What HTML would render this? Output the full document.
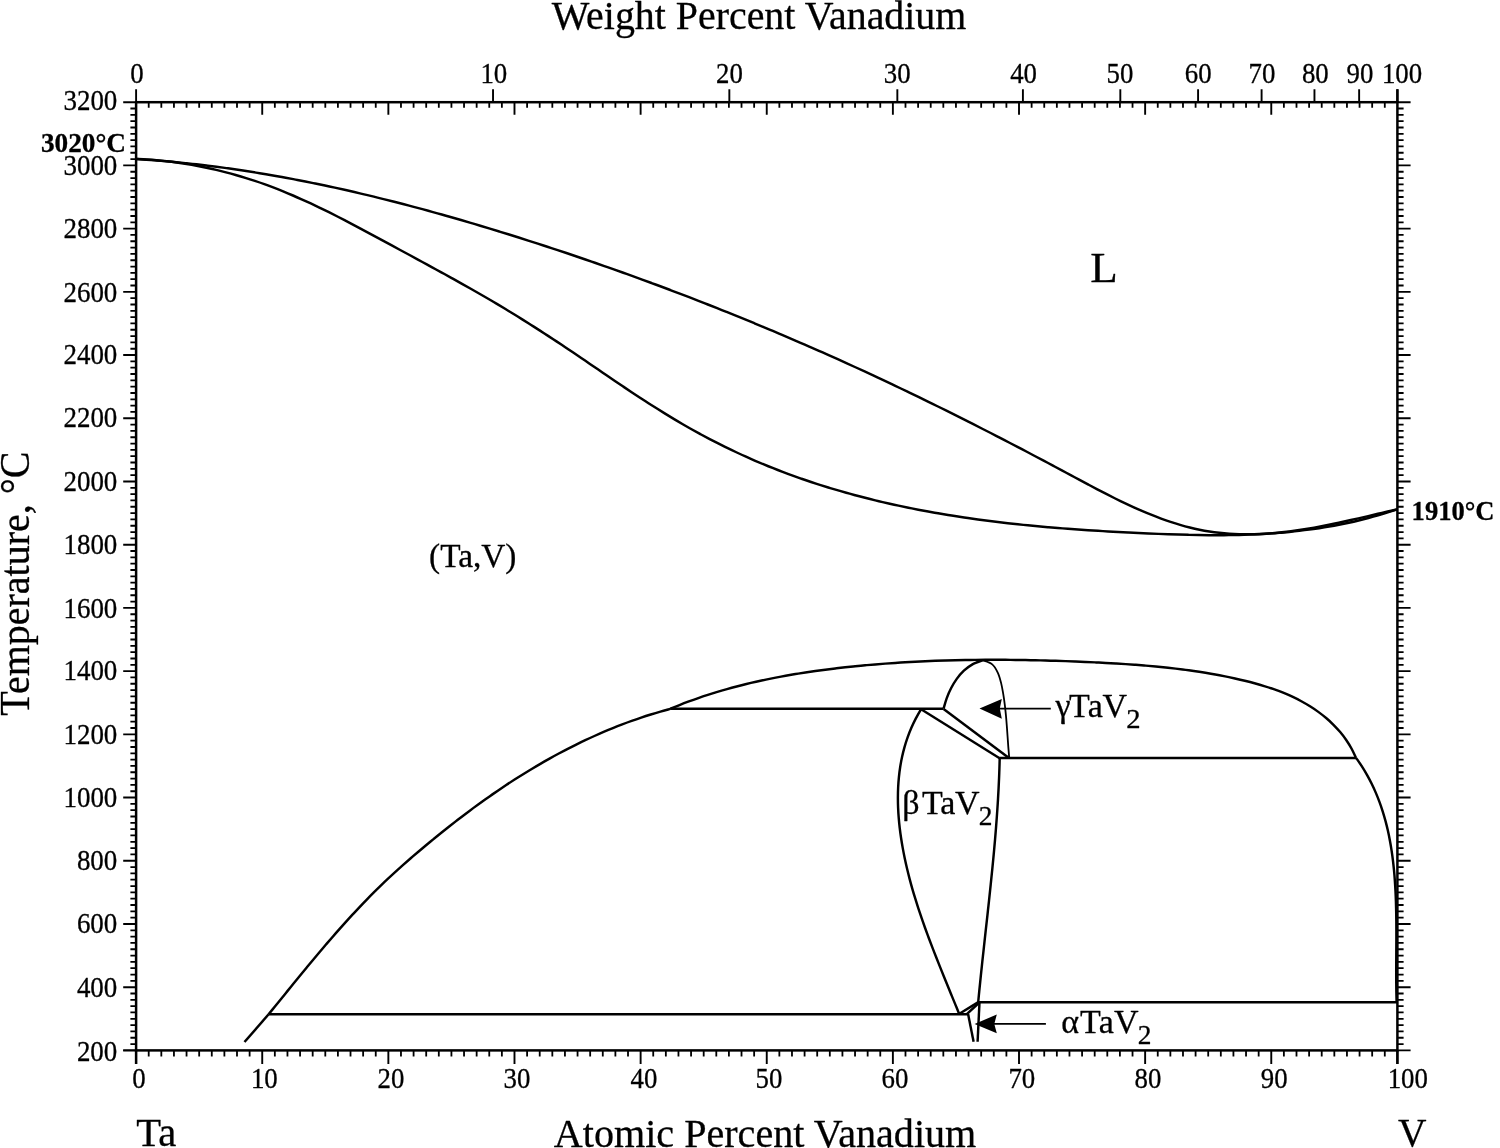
<!DOCTYPE html>
<html lang="en"><head><meta charset="utf-8"><title>Ta-V Phase Diagram</title>
<style>
html,body{margin:0;padding:0;background:#fff;}
body{width:1500px;height:1148px;overflow:hidden;}
svg{display:block;}
</style></head><body>
<svg width="1500" height="1148" viewBox="0 0 1500 1148">
<rect width="1500" height="1148" fill="#fff"/>
<g stroke="#000" fill="none" stroke-linecap="butt">
<rect x="136.1" y="102.2" width="1261.3" height="948.2" stroke-width="2.5"/>
<path d="M130.4,1044.08H136.1M1397.4,1044.08H1403.6M130.4,1037.76H136.1M1397.4,1037.76H1403.6M130.4,1031.44H136.1M1397.4,1031.44H1403.6M130.4,1025.11H136.1M1397.4,1025.11H1403.6M130.4,1018.79H136.1M1397.4,1018.79H1403.6M130.4,1012.47H136.1M1397.4,1012.47H1403.6M130.4,1006.15H136.1M1397.4,1006.15H1403.6M130.4,999.83H136.1M1397.4,999.83H1403.6M130.4,993.51H136.1M1397.4,993.51H1403.6M130.4,980.87H136.1M1397.4,980.87H1403.6M130.4,974.54H136.1M1397.4,974.54H1403.6M130.4,968.22H136.1M1397.4,968.22H1403.6M130.4,961.9H136.1M1397.4,961.9H1403.6M130.4,955.58H136.1M1397.4,955.58H1403.6M130.4,949.26H136.1M1397.4,949.26H1403.6M130.4,942.94H136.1M1397.4,942.94H1403.6M130.4,936.62H136.1M1397.4,936.62H1403.6M130.4,930.29H136.1M1397.4,930.29H1403.6M130.4,917.65H136.1M1397.4,917.65H1403.6M130.4,911.33H136.1M1397.4,911.33H1403.6M130.4,905.01H136.1M1397.4,905.01H1403.6M130.4,898.69H136.1M1397.4,898.69H1403.6M130.4,892.37H136.1M1397.4,892.37H1403.6M130.4,886.05H136.1M1397.4,886.05H1403.6M130.4,879.72H136.1M1397.4,879.72H1403.6M130.4,873.4H136.1M1397.4,873.4H1403.6M130.4,867.08H136.1M1397.4,867.08H1403.6M130.4,854.44H136.1M1397.4,854.44H1403.6M130.4,848.12H136.1M1397.4,848.12H1403.6M130.4,841.8H136.1M1397.4,841.8H1403.6M130.4,835.47H136.1M1397.4,835.47H1403.6M130.4,829.15H136.1M1397.4,829.15H1403.6M130.4,822.83H136.1M1397.4,822.83H1403.6M130.4,816.51H136.1M1397.4,816.51H1403.6M130.4,810.19H136.1M1397.4,810.19H1403.6M130.4,803.87H136.1M1397.4,803.87H1403.6M130.4,791.23H136.1M1397.4,791.23H1403.6M130.4,784.9H136.1M1397.4,784.9H1403.6M130.4,778.58H136.1M1397.4,778.58H1403.6M130.4,772.26H136.1M1397.4,772.26H1403.6M130.4,765.94H136.1M1397.4,765.94H1403.6M130.4,759.62H136.1M1397.4,759.62H1403.6M130.4,753.3H136.1M1397.4,753.3H1403.6M130.4,746.98H136.1M1397.4,746.98H1403.6M130.4,740.65H136.1M1397.4,740.65H1403.6M130.4,728.01H136.1M1397.4,728.01H1403.6M130.4,721.69H136.1M1397.4,721.69H1403.6M130.4,715.37H136.1M1397.4,715.37H1403.6M130.4,709.05H136.1M1397.4,709.05H1403.6M130.4,702.73H136.1M1397.4,702.73H1403.6M130.4,696.41H136.1M1397.4,696.41H1403.6M130.4,690.08H136.1M1397.4,690.08H1403.6M130.4,683.76H136.1M1397.4,683.76H1403.6M130.4,677.44H136.1M1397.4,677.44H1403.6M130.4,664.8H136.1M1397.4,664.8H1403.6M130.4,658.48H136.1M1397.4,658.48H1403.6M130.4,652.16H136.1M1397.4,652.16H1403.6M130.4,645.83H136.1M1397.4,645.83H1403.6M130.4,639.51H136.1M1397.4,639.51H1403.6M130.4,633.19H136.1M1397.4,633.19H1403.6M130.4,626.87H136.1M1397.4,626.87H1403.6M130.4,620.55H136.1M1397.4,620.55H1403.6M130.4,614.23H136.1M1397.4,614.23H1403.6M130.4,601.59H136.1M1397.4,601.59H1403.6M130.4,595.26H136.1M1397.4,595.26H1403.6M130.4,588.94H136.1M1397.4,588.94H1403.6M130.4,582.62H136.1M1397.4,582.62H1403.6M130.4,576.3H136.1M1397.4,576.3H1403.6M130.4,569.98H136.1M1397.4,569.98H1403.6M130.4,563.66H136.1M1397.4,563.66H1403.6M130.4,557.34H136.1M1397.4,557.34H1403.6M130.4,551.01H136.1M1397.4,551.01H1403.6M130.4,538.37H136.1M1397.4,538.37H1403.6M130.4,532.05H136.1M1397.4,532.05H1403.6M130.4,525.73H136.1M1397.4,525.73H1403.6M130.4,519.41H136.1M1397.4,519.41H1403.6M130.4,513.09H136.1M1397.4,513.09H1403.6M130.4,506.77H136.1M1397.4,506.77H1403.6M130.4,500.44H136.1M1397.4,500.44H1403.6M130.4,494.12H136.1M1397.4,494.12H1403.6M130.4,487.8H136.1M1397.4,487.8H1403.6M130.4,475.16H136.1M1397.4,475.16H1403.6M130.4,468.84H136.1M1397.4,468.84H1403.6M130.4,462.52H136.1M1397.4,462.52H1403.6M130.4,456.19H136.1M1397.4,456.19H1403.6M130.4,449.87H136.1M1397.4,449.87H1403.6M130.4,443.55H136.1M1397.4,443.55H1403.6M130.4,437.23H136.1M1397.4,437.23H1403.6M130.4,430.91H136.1M1397.4,430.91H1403.6M130.4,424.59H136.1M1397.4,424.59H1403.6M130.4,411.95H136.1M1397.4,411.95H1403.6M130.4,405.62H136.1M1397.4,405.62H1403.6M130.4,399.3H136.1M1397.4,399.3H1403.6M130.4,392.98H136.1M1397.4,392.98H1403.6M130.4,386.66H136.1M1397.4,386.66H1403.6M130.4,380.34H136.1M1397.4,380.34H1403.6M130.4,374.02H136.1M1397.4,374.02H1403.6M130.4,367.7H136.1M1397.4,367.7H1403.6M130.4,361.37H136.1M1397.4,361.37H1403.6M130.4,348.73H136.1M1397.4,348.73H1403.6M130.4,342.41H136.1M1397.4,342.41H1403.6M130.4,336.09H136.1M1397.4,336.09H1403.6M130.4,329.77H136.1M1397.4,329.77H1403.6M130.4,323.45H136.1M1397.4,323.45H1403.6M130.4,317.13H136.1M1397.4,317.13H1403.6M130.4,310.8H136.1M1397.4,310.8H1403.6M130.4,304.48H136.1M1397.4,304.48H1403.6M130.4,298.16H136.1M1397.4,298.16H1403.6M130.4,285.52H136.1M1397.4,285.52H1403.6M130.4,279.2H136.1M1397.4,279.2H1403.6M130.4,272.88H136.1M1397.4,272.88H1403.6M130.4,266.55H136.1M1397.4,266.55H1403.6M130.4,260.23H136.1M1397.4,260.23H1403.6M130.4,253.91H136.1M1397.4,253.91H1403.6M130.4,247.59H136.1M1397.4,247.59H1403.6M130.4,241.27H136.1M1397.4,241.27H1403.6M130.4,234.95H136.1M1397.4,234.95H1403.6M130.4,222.31H136.1M1397.4,222.31H1403.6M130.4,215.98H136.1M1397.4,215.98H1403.6M130.4,209.66H136.1M1397.4,209.66H1403.6M130.4,203.34H136.1M1397.4,203.34H1403.6M130.4,197.02H136.1M1397.4,197.02H1403.6M130.4,190.7H136.1M1397.4,190.7H1403.6M130.4,184.38H136.1M1397.4,184.38H1403.6M130.4,178.06H136.1M1397.4,178.06H1403.6M130.4,171.73H136.1M1397.4,171.73H1403.6M130.4,159.09H136.1M1397.4,159.09H1403.6M130.4,152.77H136.1M1397.4,152.77H1403.6M130.4,146.45H136.1M1397.4,146.45H1403.6M130.4,140.13H136.1M1397.4,140.13H1403.6M130.4,133.81H136.1M1397.4,133.81H1403.6M130.4,127.49H136.1M1397.4,127.49H1403.6M130.4,121.16H136.1M1397.4,121.16H1403.6M130.4,114.84H136.1M1397.4,114.84H1403.6M130.4,108.52H136.1M1397.4,108.52H1403.6M148.71,1050.4V1056.6M148.71,102.2V107.7M161.33,1050.4V1056.6M161.33,102.2V107.7M173.94,1050.4V1056.6M173.94,102.2V107.7M186.55,1050.4V1056.6M186.55,102.2V107.7M199.17,1050.4V1056.6M199.17,102.2V107.7M211.78,1050.4V1056.6M211.78,102.2V107.7M224.39,1050.4V1056.6M224.39,102.2V107.7M237,1050.4V1056.6M237,102.2V107.7M249.62,1050.4V1056.6M249.62,102.2V107.7M274.84,1050.4V1056.6M274.84,102.2V107.7M287.46,1050.4V1056.6M287.46,102.2V107.7M300.07,1050.4V1056.6M300.07,102.2V107.7M312.68,1050.4V1056.6M312.68,102.2V107.7M325.3,1050.4V1056.6M325.3,102.2V107.7M337.91,1050.4V1056.6M337.91,102.2V107.7M350.52,1050.4V1056.6M350.52,102.2V107.7M363.13,1050.4V1056.6M363.13,102.2V107.7M375.75,1050.4V1056.6M375.75,102.2V107.7M400.97,1050.4V1056.6M400.97,102.2V107.7M413.59,1050.4V1056.6M413.59,102.2V107.7M426.2,1050.4V1056.6M426.2,102.2V107.7M438.81,1050.4V1056.6M438.81,102.2V107.7M451.43,1050.4V1056.6M451.43,102.2V107.7M464.04,1050.4V1056.6M464.04,102.2V107.7M476.65,1050.4V1056.6M476.65,102.2V107.7M489.26,1050.4V1056.6M489.26,102.2V107.7M501.88,1050.4V1056.6M501.88,102.2V107.7M527.1,1050.4V1056.6M527.1,102.2V107.7M539.72,1050.4V1056.6M539.72,102.2V107.7M552.33,1050.4V1056.6M552.33,102.2V107.7M564.94,1050.4V1056.6M564.94,102.2V107.7M577.56,1050.4V1056.6M577.56,102.2V107.7M590.17,1050.4V1056.6M590.17,102.2V107.7M602.78,1050.4V1056.6M602.78,102.2V107.7M615.39,1050.4V1056.6M615.39,102.2V107.7M628.01,1050.4V1056.6M628.01,102.2V107.7M653.23,1050.4V1056.6M653.23,102.2V107.7M665.85,1050.4V1056.6M665.85,102.2V107.7M678.46,1050.4V1056.6M678.46,102.2V107.7M691.07,1050.4V1056.6M691.07,102.2V107.7M703.69,1050.4V1056.6M703.69,102.2V107.7M716.3,1050.4V1056.6M716.3,102.2V107.7M728.91,1050.4V1056.6M728.91,102.2V107.7M741.52,1050.4V1056.6M741.52,102.2V107.7M754.14,1050.4V1056.6M754.14,102.2V107.7M779.36,1050.4V1056.6M779.36,102.2V107.7M791.98,1050.4V1056.6M791.98,102.2V107.7M804.59,1050.4V1056.6M804.59,102.2V107.7M817.2,1050.4V1056.6M817.2,102.2V107.7M829.82,1050.4V1056.6M829.82,102.2V107.7M842.43,1050.4V1056.6M842.43,102.2V107.7M855.04,1050.4V1056.6M855.04,102.2V107.7M867.65,1050.4V1056.6M867.65,102.2V107.7M880.27,1050.4V1056.6M880.27,102.2V107.7M905.49,1050.4V1056.6M905.49,102.2V107.7M918.11,1050.4V1056.6M918.11,102.2V107.7M930.72,1050.4V1056.6M930.72,102.2V107.7M943.33,1050.4V1056.6M943.33,102.2V107.7M955.95,1050.4V1056.6M955.95,102.2V107.7M968.56,1050.4V1056.6M968.56,102.2V107.7M981.17,1050.4V1056.6M981.17,102.2V107.7M993.78,1050.4V1056.6M993.78,102.2V107.7M1006.4,1050.4V1056.6M1006.4,102.2V107.7M1031.62,1050.4V1056.6M1031.62,102.2V107.7M1044.24,1050.4V1056.6M1044.24,102.2V107.7M1056.85,1050.4V1056.6M1056.85,102.2V107.7M1069.46,1050.4V1056.6M1069.46,102.2V107.7M1082.08,1050.4V1056.6M1082.08,102.2V107.7M1094.69,1050.4V1056.6M1094.69,102.2V107.7M1107.3,1050.4V1056.6M1107.3,102.2V107.7M1119.91,1050.4V1056.6M1119.91,102.2V107.7M1132.53,1050.4V1056.6M1132.53,102.2V107.7M1157.75,1050.4V1056.6M1157.75,102.2V107.7M1170.37,1050.4V1056.6M1170.37,102.2V107.7M1182.98,1050.4V1056.6M1182.98,102.2V107.7M1195.59,1050.4V1056.6M1195.59,102.2V107.7M1208.21,1050.4V1056.6M1208.21,102.2V107.7M1220.82,1050.4V1056.6M1220.82,102.2V107.7M1233.43,1050.4V1056.6M1233.43,102.2V107.7M1246.04,1050.4V1056.6M1246.04,102.2V107.7M1258.66,1050.4V1056.6M1258.66,102.2V107.7M1283.88,1050.4V1056.6M1283.88,102.2V107.7M1296.5,1050.4V1056.6M1296.5,102.2V107.7M1309.11,1050.4V1056.6M1309.11,102.2V107.7M1321.72,1050.4V1056.6M1321.72,102.2V107.7M1334.34,1050.4V1056.6M1334.34,102.2V107.7M1346.95,1050.4V1056.6M1346.95,102.2V107.7M1359.56,1050.4V1056.6M1359.56,102.2V107.7M1372.17,1050.4V1056.6M1372.17,102.2V107.7M1384.79,1050.4V1056.6M1384.79,102.2V107.7" stroke-width="1.8"/>
<path d="M123.2,1050.4H136.1M1397.4,1050.4H1410.6M123.2,987.19H136.1M1397.4,987.19H1410.6M123.2,923.97H136.1M1397.4,923.97H1410.6M123.2,860.76H136.1M1397.4,860.76H1410.6M123.2,797.55H136.1M1397.4,797.55H1410.6M123.2,734.33H136.1M1397.4,734.33H1410.6M123.2,671.12H136.1M1397.4,671.12H1410.6M123.2,607.91H136.1M1397.4,607.91H1410.6M123.2,544.69H136.1M1397.4,544.69H1410.6M123.2,481.48H136.1M1397.4,481.48H1410.6M123.2,418.27H136.1M1397.4,418.27H1410.6M123.2,355.05H136.1M1397.4,355.05H1410.6M123.2,291.84H136.1M1397.4,291.84H1410.6M123.2,228.63H136.1M1397.4,228.63H1410.6M123.2,165.41H136.1M1397.4,165.41H1410.6M123.2,102.2H136.1M1397.4,102.2H1410.6M136.1,1050.4V1063.9M262.23,1050.4V1063.9M262.23,102.2V114.7M388.36,1050.4V1063.9M388.36,102.2V114.7M514.49,1050.4V1063.9M514.49,102.2V114.7M640.62,1050.4V1063.9M640.62,102.2V114.7M766.75,1050.4V1063.9M766.75,102.2V114.7M892.88,1050.4V1063.9M892.88,102.2V114.7M1019.01,1050.4V1063.9M1019.01,102.2V114.7M1145.14,1050.4V1063.9M1145.14,102.2V114.7M1271.27,1050.4V1063.9M1271.27,102.2V114.7M1397.4,1050.4V1063.9M136.1,89.2V102.2M493.03,89.2V102.2M729.34,89.2V102.2M897.34,89.2V102.2M1022.91,89.2V102.2M1120.32,89.2V102.2M1198.08,89.2V102.2M1261.6,89.2V102.2M1314.46,89.2V102.2M1359.14,89.2V102.2M1397.4,89.2V102.2" stroke-width="1.9000000000000001"/>
<path d="M136.1,1050.4V1063.9M1397.4,1050.4V1063.9M1397.4,89.2V102.2" stroke-width="2.5"/>
<path d="M123.2,1050.4H136.1" stroke-width="1.9"/>
<path d="M136.4,159C138.07,159.11 143.1,159.43 146.45,159.67C149.8,159.91 153.14,160.16 156.48,160.43C159.83,160.69 163.17,160.97 166.51,161.27C169.84,161.57 173.18,161.88 176.51,162.2C179.85,162.53 183.18,162.87 186.51,163.22C189.83,163.57 193.16,163.94 196.48,164.32C199.81,164.7 203.13,165.1 206.45,165.5C209.77,165.91 213.09,166.33 216.4,166.77C219.72,167.2 223.03,167.65 226.34,168.11C229.65,168.57 232.96,169.04 236.26,169.53C239.57,170.02 242.87,170.52 246.17,171.03C249.47,171.54 252.77,172.06 256.07,172.6C259.37,173.13 262.66,173.68 265.96,174.24C269.25,174.8 272.54,175.37 275.83,175.95C279.11,176.54 282.4,177.13 285.68,177.74C288.97,178.34 292.25,178.96 295.53,179.59C298.81,180.22 302.09,180.86 305.36,181.51C308.64,182.16 311.91,182.82 315.18,183.49C318.45,184.17 321.72,184.85 324.99,185.54C328.26,186.24 331.52,186.94 334.79,187.65C338.05,188.37 341.31,189.09 344.57,189.82C347.83,190.56 351.08,191.3 354.34,192.05C357.59,192.81 360.85,193.57 364.1,194.34C367.35,195.11 370.6,195.89 373.84,196.68C377.09,197.47 380.33,198.27 383.58,199.08C386.82,199.89 390.06,200.71 393.3,201.53C396.54,202.36 399.77,203.19 403.01,204.04C406.24,204.88 409.48,205.73 412.71,206.59C415.94,207.45 419.17,208.31 422.4,209.19C425.62,210.06 428.85,210.95 432.07,211.84C435.29,212.73 438.52,213.63 441.74,214.53C444.96,215.44 448.17,216.35 451.39,217.27C454.61,218.19 457.82,219.11 461.03,220.05C464.24,220.98 467.45,221.92 470.66,222.87C473.87,223.81 477.08,224.77 480.28,225.73C483.49,226.68 486.69,227.65 489.89,228.62C493.09,229.59 496.29,230.57 499.49,231.55C502.69,232.54 505.89,233.53 509.08,234.52C512.27,235.52 515.47,236.52 518.66,237.52C521.85,238.53 525.04,239.54 528.22,240.56C531.41,241.58 534.6,242.6 537.78,243.63C540.96,244.66 544.15,245.69 547.33,246.73C550.51,247.77 553.68,248.81 556.86,249.86C560.04,250.91 563.21,251.97 566.38,253.03C569.56,254.09 572.73,255.16 575.89,256.23C579.06,257.31 582.23,258.38 585.39,259.47C588.56,260.55 591.72,261.64 594.88,262.74C598.04,263.83 601.2,264.93 604.36,266.04C607.52,267.14 610.67,268.25 613.83,269.37C616.98,270.49 620.13,271.61 623.28,272.74C626.43,273.86 629.58,275 632.72,276.13C635.87,277.27 639.01,278.42 642.15,279.56C645.29,280.71 648.43,281.87 651.57,283.03C654.71,284.19 657.84,285.35 660.98,286.52C664.11,287.69 667.24,288.87 670.37,290.05C673.5,291.23 676.63,292.42 679.75,293.61C682.88,294.8 686,296 689.12,297.2C692.24,298.41 695.36,299.62 698.48,300.83C701.59,302.04 704.71,303.26 707.82,304.49C710.93,305.71 714.04,306.94 717.15,308.17C720.26,309.41 723.36,310.65 726.47,311.89C729.57,313.14 732.67,314.39 735.77,315.65C738.87,316.9 741.97,318.16 745.06,319.43C748.16,320.69 751.25,321.97 754.34,323.24C757.43,324.52 760.52,325.8 763.6,327.09C766.69,328.38 769.77,329.67 772.85,330.97C775.93,332.26 779.01,333.57 782.09,334.87C785.17,336.18 788.24,337.5 791.31,338.81C794.39,340.13 797.46,341.46 800.52,342.79C803.59,344.11 806.66,345.45 809.72,346.79C812.78,348.13 815.84,349.47 818.9,350.82C821.96,352.17 825.01,353.52 828.07,354.88C831.12,356.24 834.17,357.61 837.22,358.98C840.27,360.35 843.31,361.72 846.36,363.1C849.4,364.48 852.44,365.87 855.48,367.26C858.52,368.65 861.56,370.04 864.59,371.44C867.63,372.84 870.66,374.25 873.69,375.66C876.72,377.07 879.74,378.48 882.77,379.9C885.79,381.32 888.81,382.75 891.83,384.18C894.85,385.61 897.87,387.05 900.88,388.49C903.9,389.93 906.91,391.37 909.92,392.82C912.93,394.27 915.94,395.72 918.94,397.18C921.95,398.64 924.95,400.11 927.95,401.57C930.96,403.04 933.95,404.51 936.95,405.99C939.95,407.47 942.94,408.95 945.94,410.44C948.93,411.92 951.92,413.41 954.91,414.91C957.9,416.4 960.89,417.9 963.87,419.4C966.86,420.9 969.84,422.41 972.83,423.92C975.81,425.43 978.79,426.95 981.77,428.47C984.75,429.99 987.72,431.51 990.7,433.03C993.68,434.56 996.65,436.09 999.62,437.63C1002.59,439.16 1005.57,440.7 1008.54,442.24C1011.51,443.78 1014.47,445.33 1017.44,446.88C1020.41,448.43 1023.37,449.98 1026.34,451.53C1029.3,453.09 1032.26,454.65 1035.22,456.21C1038.19,457.77 1041.15,459.34 1044.11,460.91C1047.07,462.48 1050.02,464.05 1052.98,465.63C1055.94,467.2 1058.89,468.78 1061.85,470.37C1064.8,471.95 1067.76,473.54 1070.71,475.12C1073.66,476.71 1076.62,478.3 1079.57,479.88C1082.53,481.47 1085.48,483.06 1088.44,484.63C1091.4,486.2 1094.36,487.77 1097.33,489.33C1100.3,490.88 1103.27,492.43 1106.25,493.95C1109.23,495.47 1112.22,496.98 1115.22,498.47C1118.22,499.96 1121.22,501.42 1124.24,502.86C1127.26,504.3 1130.28,505.71 1133.32,507.09C1136.37,508.47 1139.42,509.83 1142.49,511.14C1145.56,512.45 1148.64,513.74 1151.74,514.98C1154.84,516.21 1157.95,517.42 1161.09,518.57C1164.22,519.72 1167.38,520.84 1170.55,521.89C1173.72,522.95 1176.91,523.96 1180.12,524.9C1183.33,525.85 1186.55,526.74 1189.79,527.55C1193.02,528.36 1196.28,529.11 1199.54,529.77C1202.8,530.43 1206.08,531.01 1209.37,531.52C1212.66,532.03 1215.96,532.46 1219.26,532.82C1222.57,533.18 1225.88,533.47 1229.21,533.69C1232.53,533.91 1235.86,534.06 1239.19,534.16C1242.52,534.25 1245.86,534.28 1249.2,534.25C1252.54,534.22 1255.89,534.14 1259.23,534C1262.58,533.86 1265.93,533.66 1269.27,533.42C1272.61,533.18 1275.96,532.89 1279.3,532.55C1282.64,532.22 1285.98,531.84 1289.31,531.42C1292.64,531 1295.97,530.54 1299.29,530.05C1302.61,529.55 1305.92,529.02 1309.22,528.46C1312.53,527.9 1315.82,527.31 1319.11,526.69C1322.4,526.08 1325.69,525.43 1328.97,524.77C1332.24,524.11 1335.52,523.42 1338.78,522.72C1342.05,522.01 1345.32,521.29 1348.58,520.56C1351.84,519.83 1355.1,519.09 1358.35,518.34C1361.61,517.59 1364.86,516.83 1368.11,516.07C1371.37,515.32 1374.62,514.55 1377.87,513.79C1381.12,513.03 1384.38,512.27 1387.63,511.53C1390.89,510.78 1395.77,509.67 1397.4,509.3" stroke-width="2.45"/>
<path d="M136.4,159C138.09,159.08 143.15,159.27 146.52,159.48C149.89,159.68 153.25,159.93 156.61,160.22C159.96,160.51 163.31,160.84 166.66,161.22C170,161.59 173.34,162.01 176.66,162.47C179.99,162.93 183.31,163.43 186.63,163.97C189.94,164.51 193.25,165.09 196.55,165.71C199.84,166.33 203.13,166.99 206.41,167.69C209.69,168.38 212.96,169.12 216.22,169.89C219.49,170.67 222.74,171.48 225.98,172.33C229.22,173.18 232.46,174.06 235.68,174.98C238.9,175.91 242.11,176.86 245.31,177.86C248.51,178.85 251.7,179.88 254.88,180.94C258.06,182 261.22,183.09 264.38,184.22C267.53,185.35 270.67,186.51 273.8,187.71C276.93,188.9 280.05,190.13 283.15,191.38C286.26,192.64 289.35,193.93 292.43,195.25C295.51,196.56 298.58,197.91 301.64,199.28C304.69,200.65 307.74,202.04 310.78,203.46C313.82,204.88 316.85,206.32 319.87,207.78C322.89,209.24 325.9,210.72 328.91,212.21C331.91,213.71 334.91,215.22 337.9,216.75C340.9,218.28 343.88,219.82 346.86,221.37C349.84,222.93 352.82,224.49 355.79,226.07C358.76,227.64 361.73,229.22 364.69,230.81C367.66,232.4 370.62,234 373.58,235.59C376.54,237.19 379.5,238.79 382.45,240.39C385.41,241.99 388.37,243.6 391.32,245.2C394.28,246.8 397.24,248.39 400.19,249.99C403.15,251.59 406.1,253.19 409.06,254.78C412.01,256.38 414.96,257.98 417.92,259.58C420.87,261.18 423.82,262.78 426.77,264.38C429.71,265.98 432.66,267.59 435.6,269.2C438.55,270.81 441.49,272.42 444.43,274.04C447.36,275.65 450.3,277.27 453.23,278.9C456.16,280.53 459.09,282.16 462.01,283.81C464.93,285.45 467.85,287.09 470.77,288.75C473.68,290.4 476.59,292.07 479.5,293.74C482.4,295.41 485.3,297.09 488.19,298.79C491.08,300.48 493.97,302.18 496.85,303.89C499.73,305.61 502.61,307.33 505.48,309.07C508.35,310.8 511.21,312.55 514.06,314.3C516.92,316.06 519.77,317.83 522.62,319.61C525.46,321.38 528.3,323.17 531.13,324.97C533.97,326.76 536.79,328.57 539.62,330.39C542.44,332.2 545.26,334.03 548.07,335.86C550.88,337.69 553.69,339.53 556.49,341.38C559.29,343.23 562.09,345.09 564.88,346.96C567.67,348.82 570.46,350.7 573.24,352.57C576.03,354.45 578.81,356.34 581.59,358.22C584.37,360.11 587.14,362 589.92,363.9C592.69,365.79 595.46,367.69 598.24,369.58C601.01,371.47 603.79,373.37 606.56,375.26C609.34,377.15 612.12,379.04 614.9,380.92C617.68,382.81 620.46,384.69 623.25,386.56C626.04,388.43 628.83,390.3 631.62,392.16C634.42,394.02 637.22,395.87 640.03,397.7C642.84,399.54 645.65,401.37 648.47,403.19C651.3,405 654.13,406.81 656.97,408.59C659.81,410.38 662.65,412.16 665.51,413.91C668.37,415.67 671.24,417.41 674.12,419.13C677,420.85 679.89,422.56 682.79,424.24C685.7,425.92 688.61,427.58 691.54,429.23C694.46,430.87 697.4,432.49 700.35,434.09C703.3,435.69 706.26,437.27 709.24,438.83C712.21,440.39 715.19,441.92 718.19,443.44C721.18,444.95 724.19,446.45 727.21,447.92C730.22,449.39 733.25,450.84 736.29,452.26C739.32,453.68 742.37,455.09 745.43,456.46C748.49,457.84 751.56,459.2 754.64,460.53C757.72,461.86 760.81,463.16 763.9,464.45C767,465.73 770.11,466.99 773.23,468.22C776.35,469.46 779.47,470.67 782.61,471.86C785.74,473.05 788.89,474.22 792.04,475.37C795.19,476.51 798.35,477.64 801.52,478.74C804.69,479.84 807.87,480.92 811.05,481.98C814.24,483.04 817.43,484.07 820.63,485.09C823.83,486.1 827.03,487.1 830.24,488.07C833.46,489.05 836.68,490 839.9,490.93C843.13,491.87 846.36,492.78 849.6,493.67C852.83,494.57 856.08,495.44 859.32,496.3C862.57,497.15 865.83,497.99 869.09,498.8C872.35,499.62 875.61,500.42 878.88,501.19C882.15,501.97 885.42,502.73 888.7,503.48C891.97,504.22 895.26,504.94 898.54,505.65C901.82,506.36 905.11,507.05 908.41,507.72C911.7,508.39 914.99,509.05 918.29,509.68C921.59,510.32 924.89,510.94 928.19,511.55C931.5,512.15 934.8,512.74 938.11,513.31C941.42,513.89 944.73,514.44 948.04,514.98C951.35,515.53 954.66,516.05 957.98,516.56C961.3,517.07 964.61,517.57 967.93,518.05C971.25,518.53 974.57,519 977.89,519.45C981.22,519.91 984.54,520.35 987.86,520.78C991.19,521.2 994.52,521.62 997.85,522.02C1001.17,522.42 1004.5,522.81 1007.84,523.18C1011.17,523.56 1014.5,523.92 1017.83,524.28C1021.17,524.63 1024.5,524.97 1027.84,525.3C1031.18,525.63 1034.52,525.95 1037.86,526.26C1041.2,526.57 1044.54,526.87 1047.88,527.16C1051.22,527.45 1054.56,527.73 1057.91,528C1061.25,528.27 1064.6,528.53 1067.94,528.78C1071.29,529.03 1074.64,529.27 1077.98,529.51C1081.33,529.75 1084.68,529.97 1088.03,530.19C1091.38,530.41 1094.73,530.62 1098.08,530.83C1101.43,531.03 1104.79,531.23 1108.14,531.42C1111.49,531.61 1114.85,531.8 1118.2,531.98C1121.55,532.16 1124.91,532.33 1128.26,532.5C1131.62,532.66 1134.98,532.83 1138.33,532.98C1141.69,533.14 1145.05,533.3 1148.4,533.44C1151.76,533.59 1155.12,533.73 1158.48,533.87C1161.83,534 1165.19,534.13 1168.55,534.25C1171.91,534.37 1175.27,534.48 1178.63,534.58C1181.98,534.68 1185.34,534.77 1188.7,534.85C1192.06,534.93 1195.42,535 1198.77,535.05C1202.13,535.1 1205.49,535.14 1208.85,535.16C1212.2,535.19 1215.56,535.2 1218.91,535.19C1222.27,535.18 1225.62,535.15 1228.98,535.11C1232.33,535.06 1235.69,535 1239.04,534.92C1242.39,534.84 1245.74,534.74 1249.09,534.61C1252.44,534.49 1255.79,534.34 1259.14,534.17C1262.49,534 1265.83,533.81 1269.18,533.59C1272.52,533.37 1275.87,533.13 1279.21,532.86C1282.55,532.59 1285.89,532.29 1289.22,531.97C1292.56,531.64 1295.89,531.29 1299.22,530.9C1302.55,530.51 1305.88,530.1 1309.2,529.65C1312.52,529.2 1315.84,528.72 1319.15,528.21C1322.46,527.69 1325.77,527.15 1329.07,526.57C1332.38,525.99 1335.67,525.38 1338.97,524.73C1342.26,524.09 1345.54,523.41 1348.82,522.69C1352.1,521.98 1355.37,521.23 1358.63,520.44C1361.9,519.66 1365.15,518.84 1368.4,517.98C1371.65,517.13 1374.89,516.24 1378.12,515.31C1381.35,514.38 1384.58,513.42 1387.79,512.42C1391,511.41 1395.8,509.82 1397.4,509.3" stroke-width="2.45"/>
<line x1="244.5" y1="1042" x2="268.6" y2="1014.3" stroke-width="2.45"/>
<path d="M268.6,1014.3C269.66,1013 272.82,1009.11 274.93,1006.51C277.04,1003.91 279.15,1001.31 281.26,998.71C283.38,996.1 285.49,993.5 287.6,990.89C289.72,988.29 291.84,985.68 293.96,983.08C296.08,980.48 298.2,977.88 300.33,975.28C302.46,972.68 304.6,970.08 306.74,967.49C308.88,964.9 311.02,962.31 313.17,959.73C315.33,957.15 317.48,954.57 319.65,952.01C321.82,949.44 324,946.87 326.18,944.32C328.37,941.77 330.56,939.22 332.77,936.69C334.97,934.16 337.19,931.63 339.41,929.12C341.64,926.6 343.88,924.1 346.13,921.61C348.38,919.12 350.65,916.64 352.93,914.18C355.21,911.72 357.5,909.27 359.81,906.83C362.11,904.4 364.44,901.98 366.78,899.58C369.12,897.18 371.47,894.79 373.84,892.43C376.22,890.06 378.61,887.71 381.02,885.39C383.43,883.06 385.85,880.75 388.3,878.46C390.74,876.16 393.2,873.89 395.68,871.63C398.16,869.38 400.65,867.14 403.16,864.91C405.66,862.69 408.18,860.48 410.72,858.28C413.25,856.08 415.8,853.9 418.35,851.73C420.91,849.56 423.48,847.4 426.05,845.25C428.63,843.11 431.22,840.97 433.81,838.84C436.41,836.72 439.01,834.6 441.63,832.5C444.24,830.4 446.86,828.3 449.5,826.22C452.13,824.15 454.78,822.08 457.44,820.03C460.09,817.97 462.76,815.94 465.44,813.91C468.12,811.89 470.82,809.88 473.52,807.89C476.23,805.9 478.94,803.92 481.67,801.96C484.4,800 487.14,798.06 489.9,796.14C492.65,794.21 495.42,792.3 498.19,790.41C500.97,788.53 503.76,786.66 506.57,784.81C509.37,782.96 512.18,781.12 515.01,779.31C517.84,777.5 520.68,775.71 523.53,773.94C526.39,772.17 529.25,770.43 532.13,768.7C535.01,766.97 537.9,765.27 540.8,763.59C543.7,761.91 546.62,760.25 549.54,758.62C552.47,756.98 555.41,755.37 558.36,753.79C561.32,752.2 564.28,750.64 567.26,749.1C570.24,747.57 573.23,746.06 576.23,744.58C579.24,743.09 582.25,741.64 585.28,740.21C588.31,738.78 591.35,737.38 594.41,736C597.46,734.63 600.53,733.28 603.61,731.97C606.69,730.65 609.78,729.36 612.89,728.11C615.99,726.85 619.11,725.62 622.25,724.42C625.38,723.23 628.52,722.06 631.68,720.93C634.84,719.79 638.01,718.69 641.19,717.62C644.38,716.55 647.57,715.52 650.78,714.51C653.99,713.51 657.22,712.54 660.45,711.6C663.69,710.67 668.58,709.35 670.2,708.9" stroke-width="2.45"/>
<path d="M670.2,708.9C671.75,708.26 676.39,706.31 679.5,705.07C682.61,703.83 685.74,702.63 688.87,701.46C692.01,700.29 695.16,699.16 698.31,698.06C701.47,696.96 704.64,695.9 707.81,694.87C710.99,693.84 714.18,692.84 717.37,691.87C720.57,690.91 723.77,689.97 726.98,689.07C730.2,688.16 733.42,687.29 736.65,686.45C739.88,685.6 743.12,684.78 746.36,684C749.6,683.21 752.86,682.45 756.11,681.71C759.37,680.98 762.64,680.27 765.91,679.58C769.18,678.9 772.46,678.24 775.74,677.61C779.02,676.97 782.31,676.36 785.6,675.77C788.89,675.19 792.19,674.62 795.49,674.07C798.79,673.53 802.09,673.01 805.4,672.5C808.71,672 812.02,671.51 815.33,671.05C818.65,670.58 821.97,670.14 825.28,669.7C828.6,669.27 831.93,668.86 835.25,668.46C838.57,668.07 841.89,667.69 845.22,667.32C848.54,666.95 851.87,666.6 855.2,666.27C858.53,665.93 861.85,665.61 865.18,665.3C868.51,664.99 871.84,664.7 875.18,664.42C878.51,664.14 881.84,663.88 885.17,663.62C888.51,663.37 891.84,663.13 895.17,662.91C898.51,662.68 901.84,662.47 905.18,662.27C908.52,662.07 911.86,661.89 915.19,661.72C918.53,661.54 921.87,661.38 925.21,661.23C928.55,661.08 931.89,660.95 935.23,660.82C938.57,660.7 941.91,660.58 945.25,660.48C948.59,660.38 951.93,660.29 955.28,660.21C958.62,660.13 961.96,660.07 965.3,660.01C968.65,659.95 971.99,659.9 975.34,659.87C978.68,659.83 982.02,659.81 985.37,659.79C988.71,659.77 992.06,659.77 995.4,659.77C998.75,659.78 1002.09,659.79 1005.44,659.81C1008.78,659.83 1012.13,659.87 1015.47,659.91C1018.82,659.95 1022.16,660 1025.51,660.06C1028.85,660.11 1032.2,660.18 1035.54,660.26C1038.89,660.33 1042.23,660.42 1045.58,660.51C1048.92,660.6 1052.27,660.7 1055.61,660.8C1058.96,660.91 1062.3,661.02 1065.64,661.14C1068.99,661.26 1072.33,661.39 1075.67,661.53C1079.02,661.66 1082.36,661.8 1085.7,661.95C1089.05,662.1 1092.39,662.25 1095.73,662.41C1099.07,662.58 1102.41,662.74 1105.75,662.92C1109.09,663.1 1112.43,663.28 1115.77,663.48C1119.11,663.68 1122.45,663.89 1125.78,664.11C1129.12,664.33 1132.45,664.56 1135.78,664.81C1139.12,665.06 1142.45,665.32 1145.78,665.6C1149.1,665.88 1152.43,666.18 1155.76,666.49C1159.08,666.81 1162.4,667.14 1165.72,667.49C1169.04,667.84 1172.36,668.21 1175.67,668.61C1178.99,669.01 1182.3,669.42 1185.61,669.86C1188.92,670.3 1192.22,670.77 1195.53,671.26C1198.83,671.75 1202.13,672.26 1205.42,672.8C1208.72,673.35 1212.01,673.92 1215.3,674.52C1218.59,675.12 1221.87,675.75 1225.15,676.41C1228.43,677.07 1231.7,677.76 1234.97,678.48C1238.25,679.21 1241.52,679.96 1244.77,680.76C1248.03,681.56 1251.29,682.38 1254.53,683.26C1257.76,684.15 1260.99,685.07 1264.2,686.06C1267.4,687.05 1270.59,688.08 1273.75,689.2C1276.91,690.31 1280.05,691.48 1283.15,692.74C1286.25,693.99 1289.32,695.31 1292.35,696.73C1295.38,698.15 1298.38,699.65 1301.32,701.24C1304.26,702.83 1307.17,704.51 1310,706.29C1312.83,708.06 1315.61,709.92 1318.3,711.88C1320.99,713.84 1323.62,715.89 1326.15,718.04C1328.68,720.19 1331.13,722.43 1333.47,724.77C1335.81,727.11 1338.06,729.54 1340.18,732.08C1342.31,734.61 1344.33,737.24 1346.21,739.98C1348.09,742.71 1349.86,745.55 1351.48,748.48C1353.09,751.42 1355.16,756.08 1355.9,757.6" stroke-width="2.45"/>
<path d="M1355.9,757.6C1356.87,759.02 1359.89,763.24 1361.74,766.11C1363.59,768.99 1365.33,771.9 1366.99,774.84C1368.65,777.78 1370.21,780.76 1371.69,783.76C1373.17,786.77 1374.56,789.81 1375.86,792.87C1377.17,795.93 1378.39,799.03 1379.54,802.15C1380.69,805.26 1381.76,808.41 1382.76,811.58C1383.76,814.75 1384.68,817.94 1385.54,821.15C1386.4,824.36 1387.19,827.6 1387.92,830.85C1388.66,834.11 1389.32,837.38 1389.93,840.67C1390.55,843.96 1391.1,847.27 1391.6,850.59C1392.11,853.91 1392.56,857.24 1392.96,860.59C1393.37,863.94 1393.72,867.3 1394.04,870.67C1394.36,874.04 1394.63,877.42 1394.87,880.8C1395.11,884.19 1395.31,887.58 1395.48,890.98C1395.66,894.38 1395.79,897.79 1395.91,901.19C1396.03,904.6 1396.11,908.01 1396.18,911.42C1396.25,914.84 1396.29,918.25 1396.32,921.66C1396.35,925.07 1396.36,928.48 1396.37,931.88C1396.37,935.28 1396.36,938.69 1396.35,942.08C1396.34,945.47 1396.32,948.86 1396.3,952.24C1396.28,955.62 1396.26,958.99 1396.24,962.35C1396.23,965.71 1396.21,969.06 1396.21,972.4C1396.22,975.73 1396.22,979.06 1396.24,982.36C1396.27,985.67 1396.3,988.96 1396.36,992.23C1396.42,995.51 1396.56,1000.37 1396.6,1002" stroke-width="2.45"/>
<line x1="670.2" y1="708.8" x2="943.6" y2="708.8" stroke-width="2.45"/>
<line x1="999.5" y1="757.9" x2="1356.2" y2="757.9" stroke-width="2.45"/>
<line x1="978.1" y1="1002.2" x2="1397.4" y2="1002.2" stroke-width="2.5"/>
<line x1="268.6" y1="1014.2" x2="968.1" y2="1014.2" stroke-width="2.45"/>
<path d="M921.1,709.1C920.23,710.64 917.49,715.25 915.87,718.37C914.25,721.49 912.76,724.64 911.38,727.82C910,730.99 908.75,734.2 907.61,737.42C906.46,740.65 905.43,743.9 904.51,747.17C903.58,750.44 902.77,753.74 902.05,757.04C901.33,760.35 900.72,763.68 900.19,767.02C899.67,770.36 899.25,773.72 898.91,777.08C898.57,780.45 898.32,783.83 898.15,787.21C897.99,790.6 897.91,793.99 897.9,797.39C897.89,800.79 897.96,804.2 898.1,807.6C898.24,811.01 898.45,814.42 898.73,817.83C899,821.23 899.35,824.64 899.74,828.05C900.14,831.45 900.6,834.85 901.11,838.24C901.62,841.63 902.19,845.02 902.8,848.39C903.41,851.77 904.08,855.14 904.78,858.5C905.49,861.86 906.24,865.22 907.03,868.56C907.83,871.91 908.67,875.25 909.54,878.58C910.41,881.91 911.33,885.24 912.27,888.55C913.22,891.87 914.21,895.18 915.22,898.48C916.23,901.78 917.28,905.07 918.35,908.36C919.42,911.64 920.53,914.92 921.65,918.19C922.78,921.46 923.93,924.72 925.1,927.98C926.27,931.23 927.46,934.48 928.67,937.72C929.87,940.96 931.1,944.19 932.34,947.42C933.58,950.64 934.84,953.86 936.1,957.07C937.36,960.28 938.64,963.48 939.92,966.67C941.2,969.86 942.49,973.05 943.78,976.23C945.07,979.41 946.36,982.58 947.66,985.74C948.95,988.9 950.24,992.06 951.53,995.21C952.82,998.35 954.11,1001.49 955.39,1004.63C956.67,1007.76 958.56,1012.44 959.2,1014" stroke-width="2.45"/>
<path d="M999.7,758C999.65,759.7 999.53,764.82 999.42,768.22C999.31,771.63 999.19,775.03 999.04,778.44C998.9,781.84 998.75,785.24 998.57,788.64C998.4,792.04 998.22,795.44 998.02,798.84C997.82,802.24 997.6,805.63 997.38,809.03C997.15,812.43 996.91,815.82 996.66,819.21C996.41,822.61 996.15,826 995.88,829.39C995.61,832.79 995.33,836.18 995.04,839.57C994.75,842.96 994.44,846.35 994.14,849.74C993.83,853.13 993.51,856.51 993.19,859.9C992.86,863.29 992.53,866.68 992.19,870.06C991.86,873.45 991.51,876.84 991.16,880.22C990.82,883.61 990.46,886.99 990.1,890.38C989.75,893.76 989.38,897.15 989.02,900.53C988.65,903.92 988.29,907.3 987.92,910.69C987.55,914.07 987.17,917.46 986.8,920.84C986.43,924.22 986.05,927.61 985.68,930.99C985.31,934.38 984.93,937.76 984.56,941.14C984.19,944.53 983.81,947.91 983.45,951.3C983.08,954.68 982.71,958.07 982.34,961.45C981.98,964.84 981.62,968.22 981.26,971.61C980.91,975 980.56,978.38 980.21,981.77C979.86,985.16 979.52,988.55 979.19,991.93C978.85,995.32 978.36,1000.41 978.2,1002.1" stroke-width="2.45"/>
<line x1="921.1" y1="709.3" x2="999.6" y2="758.2" stroke-width="2.45"/>
<line x1="943.6" y1="709" x2="1008.3" y2="757.6" stroke-width="2.45"/>
<path d="M943.6,708.6C944.11,706.9 945.43,701.77 946.67,698.39C947.92,695 949.36,691.54 951.05,688.29C952.73,685.03 954.62,681.8 956.76,678.86C958.9,675.93 961.26,673.11 963.88,670.68C966.49,668.26 969.34,666.04 972.44,664.31C975.54,662.58 980.82,660.97 982.5,660.3" stroke-width="2.45"/>
<path d="M982.5,660.3C984.12,660.97 989.65,662.24 992.21,664.33C994.77,666.41 996.38,669.68 997.86,672.81C999.35,675.95 1000.25,679.62 1001.14,683.13C1002.03,686.65 1002.62,690.35 1003.23,693.92C1003.83,697.49 1004.32,701.04 1004.77,704.57C1005.22,708.11 1005.58,711.61 1005.91,715.13C1006.25,718.64 1006.52,722.13 1006.79,725.64C1007.07,729.15 1007.29,732.66 1007.55,736.19C1007.8,739.72 1008.03,743.25 1008.3,746.82C1008.58,750.39 1009.05,755.8 1009.2,757.6" stroke-width="1.8"/>
<line x1="959.4" y1="1013.8" x2="978.3" y2="1002.1" stroke-width="2.45"/>
<line x1="967.1" y1="1013.8" x2="978.8" y2="1003" stroke-width="2.45"/>
<line x1="968.1" y1="1014.1" x2="973.6" y2="1041.7" stroke-width="2.45"/>
<line x1="979.5" y1="1002.1" x2="977.6" y2="1041.7" stroke-width="2.45"/>
<line x1="999" y1="708.6" x2="1050.8" y2="708.6" stroke-width="1.6"/>
<line x1="993" y1="1023.9" x2="1045.9" y2="1023.9" stroke-width="1.6"/>
</g>
<path d="M979.5,708.6L1001.8,699L999.8,708.6L1001.8,718.7Z" fill="#000"/>
<path d="M974.6,1023.9L996.8,1014.5L994.3,1023.9L996.8,1033.3Z" fill="#000"/>
<g font-family="'Liberation Serif','Times New Roman',serif" fill="#000" stroke="#000" stroke-width="0.3" stroke-linejoin="round" style="font-kerning:normal">
<text transform="translate(76.9,1060.6) scale(0.9394,1)" font-size="28.7">200</text>
<text transform="translate(76.9,997.09) scale(0.9394,1)" font-size="28.7">400</text>
<text transform="translate(76.9,933.17) scale(0.9394,1)" font-size="28.7">600</text>
<text transform="translate(76.9,869.96) scale(0.9394,1)" font-size="28.7">800</text>
<text transform="translate(63.43,806.75) scale(0.9394,1)" font-size="28.7">1000</text>
<text transform="translate(63.43,743.53) scale(0.9394,1)" font-size="28.7">1200</text>
<text transform="translate(63.43,680.32) scale(0.9394,1)" font-size="28.7">1400</text>
<text transform="translate(63.43,618.21) scale(0.9394,1)" font-size="28.7">1600</text>
<text transform="translate(63.43,553.89) scale(0.9394,1)" font-size="28.7">1800</text>
<text transform="translate(63.43,490.68) scale(0.9394,1)" font-size="28.7">2000</text>
<text transform="translate(63.43,427.47) scale(0.9394,1)" font-size="28.7">2200</text>
<text transform="translate(63.43,364.25) scale(0.9394,1)" font-size="28.7">2400</text>
<text transform="translate(63.43,301.54) scale(0.9394,1)" font-size="28.7">2600</text>
<text transform="translate(63.43,237.83) scale(0.9394,1)" font-size="28.7">2800</text>
<text transform="translate(63.43,174.61) scale(0.9394,1)" font-size="28.7">3000</text>
<text transform="translate(63.43,110.4) scale(0.9394,1)" font-size="28.7">3200</text>
<text transform="translate(132.14,1088.3) scale(0.9359,1)" font-size="28.7">0</text>
<text transform="translate(250.91,1088.3) scale(0.9359,1)" font-size="28.7">10</text>
<text transform="translate(377.58,1088.3) scale(0.9354,1)" font-size="28.7">20</text>
<text transform="translate(503.61,1088.3) scale(0.9354,1)" font-size="28.7">30</text>
<text transform="translate(630.5,1088.3) scale(0.9354,1)" font-size="28.7">40</text>
<text transform="translate(755.59,1088.3) scale(0.9355,1)" font-size="28.7">50</text>
<text transform="translate(881.51,1088.3) scale(0.9358,1)" font-size="28.7">60</text>
<text transform="translate(1008.45,1088.3) scale(0.9359,1)" font-size="28.7">70</text>
<text transform="translate(1134.52,1088.3) scale(0.9354,1)" font-size="28.7">80</text>
<text transform="translate(1260.8,1088.3) scale(0.9354,1)" font-size="28.7">90</text>
<text transform="translate(1387.65,1088.3) scale(0.9358,1)" font-size="28.7">100</text>
<text transform="translate(130.29,82.6) scale(0.9359,1)" font-size="28.7">0</text>
<text transform="translate(480.41,82.6) scale(0.9359,1)" font-size="28.7">10</text>
<text transform="translate(716.05,82.6) scale(0.9358,1)" font-size="28.7">20</text>
<text transform="translate(883.86,82.6) scale(0.9354,1)" font-size="28.7">30</text>
<text transform="translate(1010.19,82.6) scale(0.9354,1)" font-size="28.7">40</text>
<text transform="translate(1106.56,82.6) scale(0.9355,1)" font-size="28.7">50</text>
<text transform="translate(1184.73,82.6) scale(0.9354,1)" font-size="28.7">60</text>
<text transform="translate(1248.5,82.6) scale(0.9359,1)" font-size="28.7">70</text>
<text transform="translate(1301.93,82.6) scale(0.9358,1)" font-size="28.7">80</text>
<text transform="translate(1346.51,82.6) scale(0.9358,1)" font-size="28.7">90</text>
<text transform="translate(1381.9,82.6) scale(0.9358,1)" font-size="28.7">100</text>
<text transform="translate(551.66,28.7) scale(0.9729,1)" font-size="41">Weight Percent Vanadium</text>
<text transform="translate(553.81,1146.8) scale(0.9785,1)" font-size="41">Atomic Percent Vanadium</text>
<text transform="translate(136.27,1146.2) scale(0.9903,1)" font-size="41">Ta</text>
<text transform="translate(1397.96,1146.4) scale(0.9621,1)" font-size="41">V</text>
<text transform="translate(1090.2,281.5) scale(1.0931,1)" font-size="41.2">L</text>
<text transform="translate(429.03,566.5) scale(0.9692,1)" font-size="34.4">(Ta,V)</text>
<text transform="translate(28.6,715.72) rotate(-90) scale(0.9525,1)" font-size="42.0">Temperature, °C</text>
<text transform="translate(40.98,152) scale(1.0172,1)" font-size="26.8" font-weight="bold">3020°C</text>
<text transform="translate(1411.62,520) scale(0.9909,1)" font-size="26.8" font-weight="bold">1910°C</text>
<text x="1055.55 1068.89 1087.8 1102.62" y="716.8" font-size="34">γTaV</text>
<text transform="translate(1126.24,727.8) scale(1.0871,1)" font-size="26.4">2</text>
<text x="902.31 921.89 940.3 955.12" y="814" font-size="34">βTaV</text>
<text transform="translate(978.79,824.8) scale(1.0398,1)" font-size="26.4">2</text>
<text x="1061.21 1079.89 1098.8 1114.12" y="1032.8" font-size="34">αTaV</text>
<text transform="translate(1137.79,1043.8) scale(1.0398,1)" font-size="26.4">2</text>
</g>
</svg>
</body></html>
